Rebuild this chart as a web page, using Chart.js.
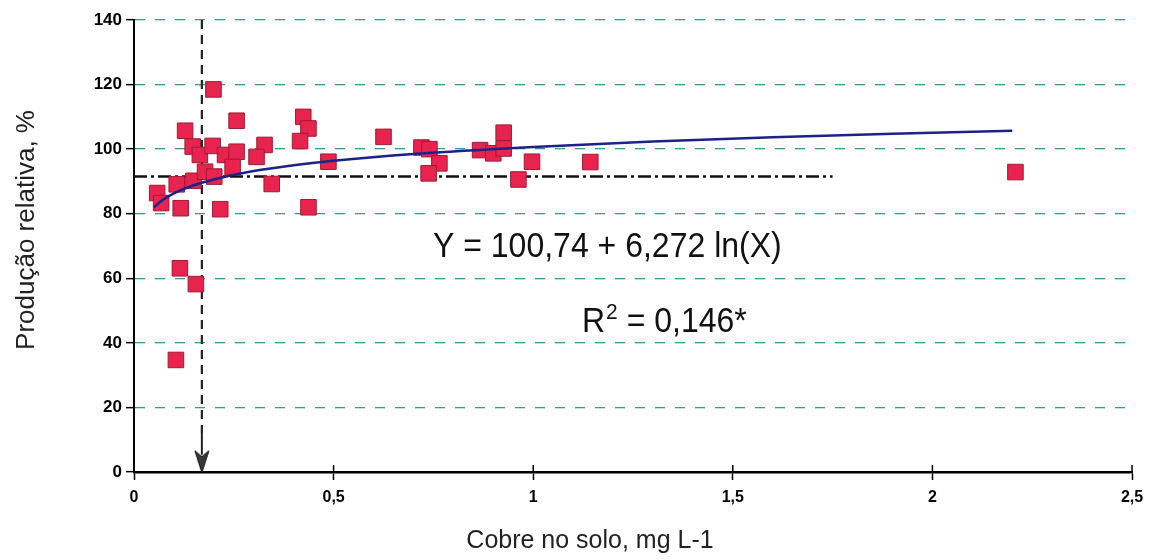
<!DOCTYPE html>
<html>
<head>
<meta charset="utf-8">
<script src="https://cdn.jsdelivr.net/npm/chart.js@4.4.1/dist/chart.umd.min.js"></script>
<style>
html,body{margin:0;padding:0;background:#fff;}
#wrap{width:1158px;height:560px;position:relative;}
</style>
</head>
<body>
<div id="wrap"><canvas id="c" width="1158" height="560"></canvas></div>
<script>
// Observed data (Cobre no solo, mg L-1 vs Produção relativa, %)
const cobreX = [0.058,0.068,0.128,0.147,0.165,0.107,0.149,0.117,0.115,0.155,0.105,
  0.199,0.257,0.424,0.437,0.416,0.197,0.228,0.257,0.327,0.307,0.247,0.487,0.178,0.201,
  0.345,0.216,0.437,0.625,0.72,0.74,0.765,0.738,0.867,0.9,0.926,0.926,0.963,0.997,1.143,2.208];
const producaoY = [86.4,83.3,105.7,100.8,98.2,89.1,90.2,81.7,63.1,58.2,34.7,
  118.5,108.8,110,106.4,102.5,101,98.2,99.2,101.3,97.6,94.5,96.1,93,91.5,
  89.2,81.4,82,103.8,100.5,100,95.6,92.5,99.7,98.7,105.1,100.2,90.6,96.1,96,92.9];

// Fitted curve Y = 100,74 + 6,272 ln(X)
const curveX = [0.05,0.07,0.1,0.15,0.2,0.3,0.4,0.5,0.7,1.0,1.3,1.6,1.9,2.2];
const curveY = [82.0,84.1,86.3,88.8,90.6,93.2,95.0,96.4,98.5,100.7,102.4,103.7,104.8,105.7];

// Reference lines
const horizX = [0, 1.75];
const horizY = [91.5, 91.5];
const vertX = [0.17, 0.17];
const vertY = [140, 12];
const arrowX = [0.17];
const arrowY = [6];

const xTicks = [0, 0.5, 1, 1.5, 2, 2.5];
const yTicks = [0, 20, 40, 60, 80, 100, 120, 140];

const equationText = 'Y = 100,74 + 6,272 ln(X)';
const r2Text = ['R', '2', ' = 0,146*'];
const xTitle = 'Cobre no solo, mg L-1';
const yTitle = 'Produção relativa, %';

const pts = (xs, ys) => xs.map((x, i) => ({x: x, y: ys[i]}));
const FONT = "Arial, 'Liberation Sans', sans-serif";

// arrow glyph used as point style
const arrowImg = document.createElement('canvas');
arrowImg.width = 16; arrowImg.height = 40;
(function () {
  const a = arrowImg.getContext('2d');
  a.strokeStyle = '#222';
  a.lineWidth = 2;
  a.beginPath(); a.moveTo(8, 0); a.lineTo(8, 22); a.stroke();
  a.fillStyle = '#3a3a3a';
  a.beginPath();
  a.moveTo(1, 18); a.lineTo(8, 24); a.lineTo(15, 18); a.lineTo(8, 40); a.closePath();
  a.fill();
  a.strokeStyle = '#111'; a.lineWidth = 1; a.stroke();
})();

const overlay = {
  id: 'overlay',
  afterDraw(chart) {
    const ctx = chart.ctx;
    const xs = chart.scales.x, ys = chart.scales.y;
    ctx.save();
    // upper part of x tick marks
    ctx.strokeStyle = '#000';
    ctx.lineWidth = 1.5;
    xTicks.forEach(v => {
      const px = xs.getPixelForValue(v);
      ctx.beginPath();
      ctx.moveTo(px, ys.bottom - 7);
      ctx.lineTo(px, ys.bottom);
      ctx.stroke();
    });
    // equation text
    ctx.fillStyle = '#111';
    ctx.textBaseline = 'alphabetic';
    ctx.textAlign = 'left';
    ctx.save();
    ctx.translate(433, 257);
    ctx.scale(1, 1.12);
    ctx.font = '32px ' + FONT;
    ctx.fillText(equationText, 0, 0);
    ctx.restore();
    // R² text
    ctx.save();
    ctx.translate(582, 332);
    ctx.scale(1, 1.08);
    let x0 = 0;
    ctx.font = '32px ' + FONT;
    ctx.fillText(r2Text[0], x0, 0);
    x0 += ctx.measureText(r2Text[0]).width + 1;
    ctx.font = '21px ' + FONT;
    ctx.fillText(r2Text[1], x0, -12);
    x0 += ctx.measureText(r2Text[1]).width;
    ctx.font = '32px ' + FONT;
    ctx.fillText(r2Text[2], x0, 0);
    ctx.restore();
    // axis titles
    ctx.fillStyle = '#222';
    ctx.textAlign = 'center';
    ctx.font = '25px ' + FONT;
    ctx.fillText(xTitle, 590, 548);
    ctx.translate(34, 230);
    ctx.rotate(-Math.PI / 2);
    ctx.font = '26px ' + FONT;
    ctx.fillText(yTitle, 0, 0);
    ctx.restore();
  }
};

new Chart(document.getElementById('c'), {
  type: 'scatter',
  data: {
    datasets: [
      {
        label: 'horizontal',
        type: 'line',
        data: pts(horizX, horizY),
        borderColor: '#111',
        borderWidth: 2.5,
        borderDash: [13, 4, 3, 4],
        pointRadius: 0,
        fill: false,
        order: 4
      },
      {
        label: 'vertical',
        type: 'line',
        data: pts(vertX, vertY),
        borderColor: '#222',
        borderWidth: 2.2,
        borderDash: [9, 6],
        pointRadius: 0,
        fill: false,
        order: 4
      },
      {
        label: 'arrow',
        data: pts(arrowX, arrowY),
        pointStyle: arrowImg,
        order: 3
      },
      {
        label: 'dados',
        data: pts(cobreX, producaoY),
        pointStyle: 'rect',
        pointRadius: 11,
        backgroundColor: '#e8234e',
        borderColor: '#9c1d35',
        borderWidth: 1,
        order: 2
      },
      {
        label: 'ajuste',
        type: 'line',
        data: pts(curveX, curveY),
        borderColor: '#1b2288',
        borderWidth: 2.5,
        cubicInterpolationMode: 'monotone',
        pointRadius: 0,
        fill: false,
        order: 1
      }
    ]
  },
  options: {
    responsive: false,
    animation: false,
    events: [],
    layout: {padding: {left: 0, right: 26, top: 20, bottom: 0}},
    plugins: {legend: {display: false}, tooltip: {enabled: false}},
    scales: {
      x: {
        type: 'linear',
        min: 0, max: 2.5,
        afterFit: s => { s.height = 88; },
        afterBuildTicks: s => { s.ticks = xTicks.map(v => ({value: v})); },
        ticks: {
          color: '#000',
          font: {family: FONT, size: 16, weight: 'bold'},
          padding: 8,
          maxRotation: 0,
          callback: v => String(v).replace('.', ',')
        },
        grid: {drawOnChartArea: false, drawTicks: true, tickLength: 8, tickColor: '#000', tickWidth: 1.5},
        border: {display: true, color: '#000', width: 2.5}
      },
      y: {
        type: 'linear',
        min: 0, max: 140,
        afterFit: s => { s.width = 134; },
        afterBuildTicks: s => { s.ticks = yTicks.map(v => ({value: v})); },
        ticks: {
          color: '#000',
          font: {family: FONT, size: 17, weight: 'bold'},
          padding: 4
        },
        grid: {
          drawOnChartArea: true,
          color: '#2fa08e',
          lineWidth: 1.3,
          drawTicks: true,
          tickLength: 8,
          tickColor: '#000',
          tickWidth: 1.5
        },
        border: {display: true, color: '#000', width: 2, dash: [10, 10]}
      }
    }
  },
  plugins: [overlay]
});
</script>
</body>
</html>
